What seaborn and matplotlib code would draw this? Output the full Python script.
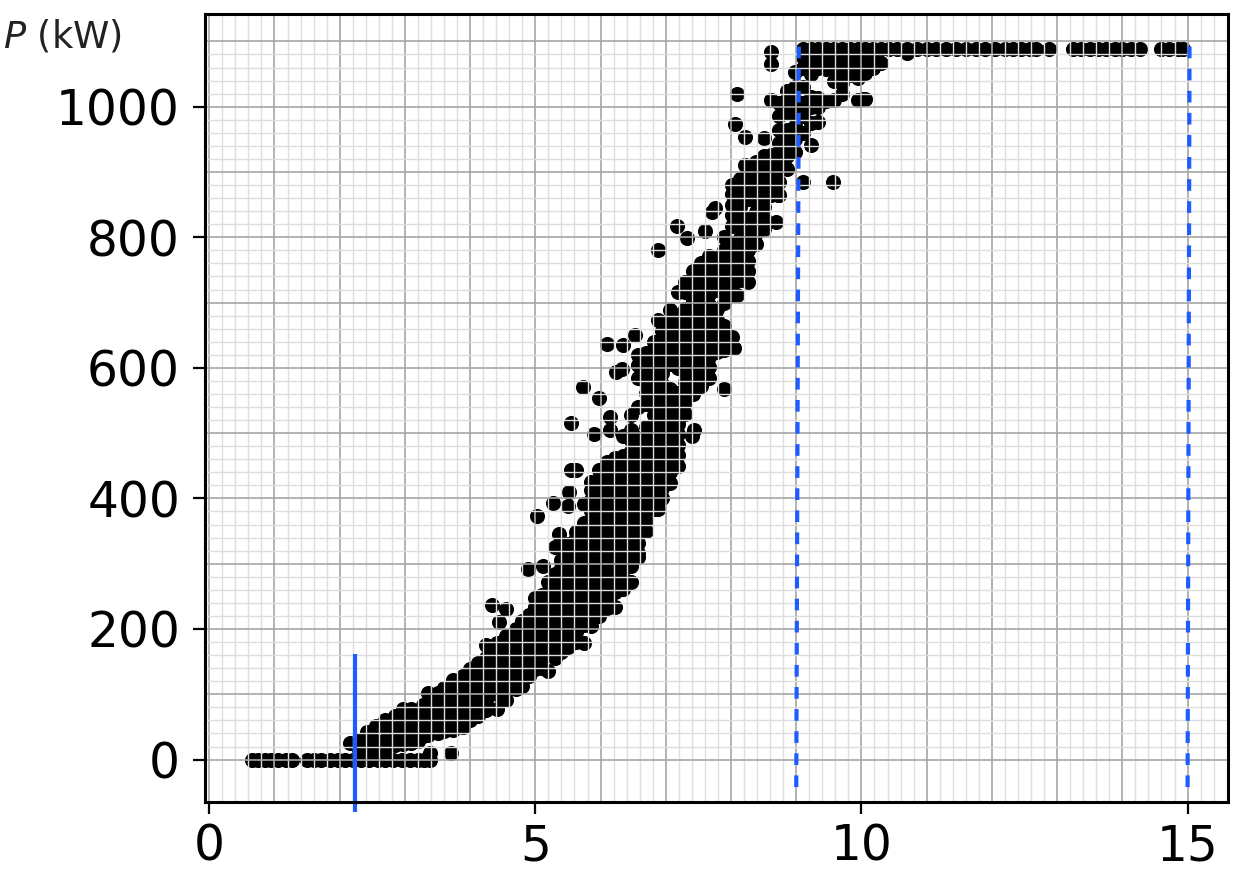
import pandas as pd
import matplotlib
matplotlib.use('Agg')
import matplotlib.pyplot as plt
import seaborn as sns

# Wind speed / power readings.
# Each entry is (wind speed, [powers seen at that speed]).
zero_power = [
    (0.65, [0]), (0.75, [0]), (0.85, [0]), (0.95, [0]), (1.05, [0]), (1.17, [0]), (1.27, [0]),
    (1.5, [0]), (1.6, [0]), (1.72, [0]), (1.85, [0]), (1.97, [0]), (2.08, [0]), (2.2, [0]),
    (2.32, [0]), (2.45, [0]), (2.58, [0]), (2.7, [0]), (2.82, [0]), (2.95, [0]), (3.08, [0]),
    (3.2, [0]), (3.3, [0]), (3.38, [0, 10]), (3.7, [10]),
]
rise_low = [
    (2.16, [25]), (2.3, [15, 30]), (2.42, [12, 28, 42]), (2.55, [12, 28, 52]),
    (2.7, [14, 30, 48, 60]), (2.85, [22, 34, 50, 66]), (2.97, [24, 32, 48, 62, 78]),
    (3.1, [26, 36, 50, 66, 78]), (3.2, [28, 44, 60, 74]), (3.28, [36, 50, 66, 84]),
    (3.36, [38, 54, 70, 84, 102]), (3.5, [40, 56, 72, 88, 102]), (3.6, [44, 60, 76, 92, 110]),
    (3.74, [46, 60, 76, 92, 108, 122]), (3.89, [50, 70, 86, 102, 118, 128]),
    (4.0, [60, 76, 92, 108, 124, 138]), (4.12, [66, 82, 98, 114, 130, 148]),
    (4.25, [76, 92, 108, 124, 140, 156, 176]), (4.41, [78, 100, 116, 132, 148, 164, 178]),
    (4.55, [92, 112, 128, 144, 160, 176, 190]), (4.7, [108, 124, 140, 156, 172, 188, 200]),
    (4.79, [112, 132, 148, 164, 180, 196, 212]), (4.9, [128, 144, 160, 176, 192, 208, 222]),
    (5.0, [138, 154, 170, 186, 202, 218, 234, 248]), (5.1, [140, 156, 172, 188, 204, 220, 236, 252]),
    (5.19, [135, 160, 176, 192, 208, 224, 240, 256, 272]),
    (5.3, [156, 172, 188, 204, 220, 236, 252, 268, 284]),
    (5.4, [165, 181, 197, 213, 229, 245, 261, 277, 293, 305]),
]
rise_mid = [
    (5.5, [172, 188, 204, 220, 236, 252, 268, 284, 300, 316, 330]),
    (5.62, [180, 196, 212, 228, 244, 260, 276, 292, 308, 324, 340, 348]),
    (5.74, [178, 206, 222, 238, 254, 270, 286, 302, 318, 334, 350, 362, 392]),
    (5.86, [205, 221, 237, 253, 269, 285, 301, 317, 333, 349, 365, 381, 397, 413, 425]),
    (5.98, [220, 236, 252, 268, 284, 300, 316, 332, 348, 364, 380, 396, 412, 428, 444]),
    (6.1, [232, 248, 264, 280, 296, 312, 328, 344, 360, 376, 392, 408, 424, 440, 456]),
    (6.22, [234, 256, 272, 288, 304, 320, 336, 352, 368, 384, 400, 416, 432, 448, 462]),
    (6.34, [262, 278, 294, 310, 326, 342, 358, 374, 390, 406, 422, 438, 454, 465, 495]),
    (6.46, [272, 296, 312, 328, 344, 360, 376, 392, 408, 424, 440, 456, 472, 490, 505, 528]),
    (6.58, [311, 316, 332, 348, 364, 380, 396, 412, 428, 444, 460, 476, 492, 540, 585, 605, 620]),
    (6.7, [350, 366, 382, 398, 414, 430, 446, 462, 478, 494, 510, 545, 561, 577, 593, 609, 623]),
    (6.82, [384, 400, 416, 432, 448, 464, 480, 496, 512, 528, 544, 560, 576, 592, 608, 624, 640]),
    (6.94, [400, 416, 432, 448, 464, 480, 496, 512, 528, 544, 560, 576, 592, 608, 624, 640, 656]),
    (7.06, [424, 440, 456, 472, 488, 504, 520, 536, 552, 568, 606, 622, 638, 654, 670, 688]),
    (7.18, [450, 466, 482, 498, 514, 530, 546, 562, 600, 616, 632, 648, 664, 680, 716]),
]
rise_high = [
    (7.3, [530, 546, 562, 578, 594, 610, 626, 642, 658, 674, 690, 716, 732]),
    (7.42, [560, 576, 592, 608, 624, 640, 656, 672, 688, 704, 720, 736, 748]),
    (7.54, [572, 588, 604, 620, 636, 652, 668, 684, 700, 716, 732, 748, 760]),
    (7.66, [585, 601, 617, 633, 649, 665, 681, 697, 713, 729, 745, 761, 772]),
    (7.78, [625, 641, 657, 673, 690, 720, 736, 752, 768]),
    (7.9, [628, 648, 664, 700, 716, 732, 748, 764, 780, 800]),
    (8.02, [648, 712, 728, 744, 760, 776, 792, 818, 834, 850, 866, 880]),
    (8.14, [735, 751, 767, 783, 799, 815, 831, 847, 863, 879, 890]),
    (8.26, [732, 748, 764, 780, 796, 812, 828, 858, 874, 890, 905]),
    (8.38, [790, 806, 822, 838, 854, 870, 886, 902, 915]),
    (8.5, [812, 830, 846, 862, 878, 894, 910, 925, 952]),
    (8.62, [864, 880, 896, 912, 926, 1011, 1066, 1084]),
    (8.74, [864, 885, 905, 925, 945, 965, 985, 1005]),
    (8.86, [905, 925, 945, 965, 990, 1010, 1024]),
    (8.98, [930, 950, 970, 990, 1010, 1030, 1053]),
]
rated = [
    (9.1, [960, 985, 1005, 1030, 1060, 1076, 1088]), (9.22, [942, 975, 1000, 1015, 1050, 1070, 1088]),
    (9.34, [977, 1000, 1014, 1060, 1075, 1088]), (9.46, [1008, 1058, 1072, 1088]),
    (9.58, [1011, 1040, 1056, 1072, 1088]), (9.7, [1020, 1037, 1056, 1072, 1088]),
    (9.82, [1048, 1064, 1078, 1088]), (9.94, [1011, 1044, 1060, 1076, 1088]),
    (10.06, [1012, 1052, 1068, 1088]), (10.18, [1060, 1074, 1088]), (10.3, [1067, 1088]),
    (10.42, [1088]), (10.55, [1088]), (10.7, [1083, 1088]), (10.85, [1088]), (11.0, [1088]),
    (11.15, [1088]), (11.3, [1088]), (11.45, [1088]), (11.6, [1088]), (11.75, [1088]), (11.9, [1088]),
    (12.05, [1088]), (12.2, [1088]), (12.33, [1088]), (12.45, [1088]), (12.58, [1088]), (12.68, [1088]),
    (12.87, [1088]), (13.25, [1088]), (13.37, [1088]), (13.5, [1088]), (13.62, [1088]), (13.75, [1088]),
    (13.88, [1088]), (14.0, [1088]), (14.13, [1088]), (14.27, [1088]), (14.6, [1088]), (14.72, [1088]),
    (14.85, [1088]), (14.93, [1088]),
]
outliers = [
    (4.33, [236]), (4.44, [211]), (4.55, [230]), (4.89, [292]), (5.02, [373]), (5.11, [297]),
    (5.27, [393]), (5.3, [325]), (5.36, [346]), (5.5, [389]), (5.52, [410]), (5.55, [444, 515]),
    (5.63, [444]), (5.73, [571]), (5.9, [499]), (5.98, [554]), (6.1, [637]), (6.15, [505, 524]),
    (6.23, [594]), (6.33, [599]), (6.35, [635]), (6.53, [651]), (6.88, [384, 674, 781]),
    (7.17, [818]), (7.32, [799]), (7.4, [496]), (7.43, [505]), (7.6, [810]), (7.71, [838]),
    (7.76, [845]), (7.89, [567]), (8.04, [631]), (8.06, [974]), (8.09, [712, 1020]), (8.22, [954, 911]),
    (8.69, [824]), (8.72, [864]), (9.1, [884]), (9.56, [885]), (10.02, [1012]),
]

x_ticks = [0, 5, 10, 15]
y_ticks = [0, 200, 400, 600, 800, 1000]
x_grid = list(range(0, 16))
y_grid = list(range(0, 1101, 100))
x_minor = [i / 5 for i in range(0, 78)]
y_minor = list(range(0, 1101, 20))

cut_in_speed = [2.235, 2.235]
cut_in_power = [-80, 162]
rated_speed = [9.04, 9.0]
cut_out_speed = [15.03, 15.0]
rated_power = [1092, -58]

rows = []
for group in [zero_power, rise_low, rise_mid, rise_high, rated, outliers]:
    for speed, powers in group:
        for power in powers:
            rows.append((speed, power))
df = pd.DataFrame(rows, columns=['speed', 'power'])

sns.set_style('ticks')
plt.rcParams['font.family'] = ['DejaVu Sans']

fig, ax = plt.subplots(figsize=(12.42, 8.73), dpi=100)
fig.subplots_adjust(left=205 / 1242, right=1228 / 1242, top=1 - 14 / 873, bottom=1 - 802 / 873)

sns.scatterplot(data=df, x='speed', y='power', color='black', s=118, linewidth=0, zorder=1, ax=ax)

# Grid sits on top of the points
ax.set_axisbelow(False)
ax.set_xticks(x_grid)
ax.set_yticks(y_grid)
ax.set_xticks(x_minor, minor=True)
ax.set_yticks(y_minor, minor=True)
ax.set_xticklabels([str(v) if v in x_ticks else '' for v in x_grid])
ax.set_yticklabels([str(v) if v in y_ticks else '' for v in y_grid])
ax.grid(which='major', color='#a6a6a6', linewidth=1.2)
ax.grid(which='minor', color='#dedede', linewidth=1.0)
ax.tick_params(which='minor', length=0)
ax.tick_params(which='major', length=8.5, width=1.6, labelsize=35, color='black', labelcolor='black')
ax.tick_params(axis='x', which='major', pad=6)
ax.tick_params(axis='y', which='major', pad=9.5)

# Only the labelled positions keep a tick mark
for tick, v in zip(ax.xaxis.get_major_ticks(), x_grid):
    tick.tick1line.set_visible(v in x_ticks)
for tick, v in zip(ax.yaxis.get_major_ticks(), y_grid):
    tick.tick1line.set_visible(v in y_ticks)

ax.plot(cut_in_speed, cut_in_power, color='#1f5cff', linewidth=3, solid_capstyle='butt', clip_on=False, zorder=5)
ax.plot(rated_speed, rated_power, color='#1f5cff', linewidth=3, dashes=(2.8, 2.5), zorder=5)
ax.plot(cut_out_speed, rated_power, color='#1f5cff', linewidth=3, dashes=(2.8, 2.5), zorder=5)

ax.set_xlim(-0.065, 15.62)
ax.set_ylim(-65, 1142)
ax.set_xlabel('')
ax.set_ylabel('')
for spine in ax.spines.values():
    spine.set_visible(True)
    spine.set_linewidth(2.2)
    spine.set_color('black')
    spine.set_zorder(6)

fig.text(3 / 1242, 1 - 48 / 873, '$P$ (kW)', fontsize=26.5, color='#222222', ha='left', va='baseline')

plt.savefig('out.png', dpi=100)
